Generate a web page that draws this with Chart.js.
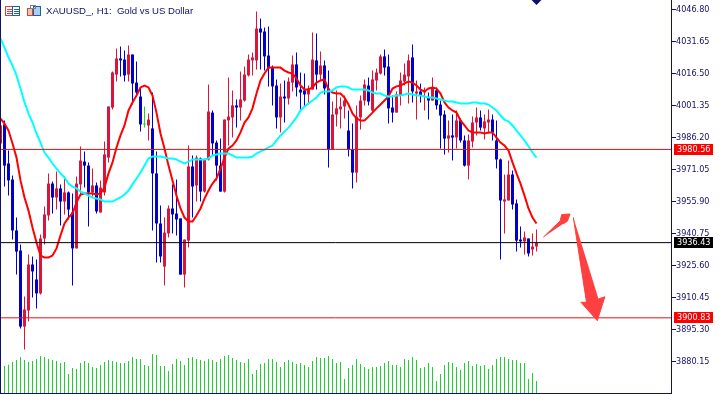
<!DOCTYPE html>
<html>
<head>
<meta charset="utf-8">
<title>XAUUSD H1</title>
<script src="https://cdn.jsdelivr.net/npm/chart.js@4"></script>
<style>
  html, body { margin: 0; padding: 0; background: #fff; }
  canvas { display: block; }
</style>
</head>
<body>
<canvas id="stockChart" width="725" height="394"></canvas>
<script>
const chartTitle = 'XAUUSD_, H1:  Gold vs US Dollar';
const priceTicks = [4046.80, 4031.65, 4016.50, 4001.35, 3986.20, 3971.05, 3955.90, 3940.75, 3925.60, 3910.45, 3895.30, 3880.15];
const resistanceLevel = 3980.56;
const lastPrice = 3936.43;
const supportLevel = 3900.83;

const highs = [3995.2,3994.3,3980.1,3968.2,3948.3,3935.6,3910.9,3930.8,3929.9,3928.5,3940.3,3953.5,3969.2,3965.4,3970.1,3964.0,3966.8,3960.6,3959.7,3967.7,
  3981.9,3979.6,3974.4,3971.5,3964.9,3965.9,3984.3,4000.9,4017.4,4028.3,4029.3,4027.4,4029.8,4025.5,4022.2,4009.9,4000.9,3997.6,4007.5,3979.6,
  3954.0,3948.3,3954.0,3964.0,3966.3,3947.9,3937.9,3982.4,3977.7,3977.7,3976.7,3976.3,4011.3,3999.0,3984.8,3985.7,3994.7,4014.6,4008.5,4004.2,
  4017.4,4019.8,4025.5,4026.4,4045.9,4042.5,4038.3,4038.8,4020.3,4013.7,4011.8,4013.2,4014.6,4025.0,4026.4,4017.0,4016.5,4010.8,4035.9,4035.4,
  4026.9,4022.7,4017.9,4003.2,4008.5,4005.1,4006.1,3999.0,3992.8,4001.4,4006.1,4013.7,4014.6,4017.9,4018.9,4025.5,4027.9,4025.5,4006.1,4008.0,
  4017.0,4021.2,4025.5,4030.2,4013.2,4011.8,4009.9,4007.5,4014.6,4009.9,4003.7,3999.0,3994.3,3997.1,3999.0,3995.2,3987.2,3987.6,3996.1,4000.4,
  3999.0,3997.1,3999.5,3997.1,3994.3,3976.3,3968.7,3975.3,3970.6,3956.9,3944.1,3941.7,3938.4,3940.8,3942.7];
const lows = [3983.4,3963.0,3958.7,3937.9,3921.3,3895.8,3885.8,3899.1,3910.5,3905.2,3911.9,3935.6,3946.9,3950.2,3952.1,3944.6,3949.8,3947.4,3916.1,3933.7,
  3959.2,3962.5,3944.1,3958.3,3950.2,3950.7,3958.7,3974.4,3999.5,4012.7,4015.1,4012.7,4012.7,4001.8,4006.0,3989.0,3990.9,3984.8,3942.2,3927.0,
  3927.0,3916.1,3938.9,3940.8,3939.8,3921.3,3915.2,3934.1,3948.3,3955.9,3955.9,3960.2,3975.3,3977.7,3965.9,3960.6,3960.2,3982.4,3986.2,3990.9,
  3994.3,4003.2,4015.1,4015.6,4018.4,4018.4,4017.9,4010.4,4001.4,3990.5,3988.6,3993.3,4001.8,4008.0,4005.6,3999.0,4000.9,4001.8,4008.9,4008.9,
  4013.2,4006.6,3972.0,3980.5,3991.4,3990.5,3995.2,3977.2,3962.1,3964.9,3990.0,4001.4,4001.4,3998.0,4008.5,4016.0,4015.6,3992.8,3993.3,3998.0,
  4001.4,4010.8,4002.3,4002.8,3994.7,4002.8,3999.0,3994.7,4003.7,3999.5,3981.0,3978.2,3979.1,3975.3,3981.0,3983.8,3972.5,3966.3,3981.5,3987.2,
  3989.5,3985.3,3988.1,3984.8,3971.5,3928.5,3940.8,3956.4,3952.1,3932.2,3934.1,3930.8,3929.9,3930.3,3932.2];
const opens = [3983.4,3992.4,3973.9,3966.3,3942.2,3932.7,3896.7,3904.3,3926.1,3919.0,3912.4,3938.4,3949.3,3964.4,3957.8,3962.1,3955.9,3960.2,3950.7,3933.7,
  3964.0,3974.8,3972.9,3960.2,3963.5,3950.7,3960.2,3976.7,4000.4,4016.0,4023.6,4023.1,4016.0,4025.5,4012.2,4005.6,3992.8,3991.9,3990.5,3969.2,
  3945.5,3925.1,3940.8,3952.6,3950.2,3947.9,3921.3,3937.4,3972.5,3963.5,3976.3,3960.6,3975.8,3998.0,3983.8,3972.9,3960.6,3994.3,3995.7,4001.4,
  4000.4,4003.7,4015.6,4022.7,4022.7,4037.8,4036.4,4025.0,4019.3,4010.8,3995.7,4005.6,4004.7,4012.2,4020.8,4008.9,4008.5,4006.6,4008.9,4022.7,
  4016.0,4020.3,4009.4,3980.5,3997.1,3999.5,4000.9,3989.5,3980.5,3969.6,3995.7,4003.7,4010.8,3999.0,4013.2,4016.5,4024.6,4019.8,4000.4,3998.0,
  4006.1,4012.7,4015.1,4024.1,4007.0,4008.0,4007.5,4005.1,4003.7,4008.5,4001.8,3997.1,3985.7,3987.2,3986.2,3994.3,3984.8,3972.9,3984.3,3993.3,
  3995.7,3990.5,3993.3,3994.7,3984.8,3975.8,3955.9,3956.4,3968.7,3955.0,3937.9,3937.0,3938.4,3933.2,3934.6];
const closes = [3991.9,3972.9,3965.9,3942.2,3932.2,3896.7,3904.8,3926.1,3922.8,3912.4,3938.4,3949.8,3964.4,3957.8,3962.1,3955.9,3960.2,3952.1,3933.7,3964.4,
  3975.3,3972.9,3960.2,3963.5,3951.2,3962.5,3978.2,4000.9,4017.0,4023.6,4022.7,4015.6,4025.5,4011.8,4007.5,3992.4,3992.4,3994.7,3969.2,3945.5,
  3929.9,3941.2,3952.6,3949.8,3947.4,3921.3,3937.9,3972.5,3963.0,3976.7,3960.6,3975.8,3998.5,3983.4,3972.9,3960.6,3994.7,3996.1,4001.4,4000.4,
  4004.2,4016.0,4023.1,4024.1,4037.8,4035.9,4024.6,4018.9,4010.4,3995.7,4005.6,4004.7,4012.7,4020.8,4009.9,4007.5,4006.6,4009.4,4023.1,4016.0,
  4020.3,4009.4,3980.5,3997.1,4000.0,4000.9,4003.7,3980.5,3969.6,3996.1,4003.7,4011.3,4003.2,4013.7,4017.0,4024.6,4019.3,4000.0,3998.0,4006.6,
  4013.2,4016.0,4022.7,4008.0,4008.0,4006.1,4008.5,4003.7,4009.9,4001.4,3996.6,3985.7,3987.2,3986.2,3994.3,3984.8,3972.9,3984.8,3993.3,3995.7,
  3990.9,3993.8,3994.7,3988.6,3975.8,3956.4,3956.9,3968.7,3954.5,3937.4,3937.0,3938.9,3931.3,3934.6,3936.4];
// the one candle the terminal draws in green
const greenCandles = [36];

const redAverage = [3995.2,3992.8,3989.5,3983.4,3976.7,3965.9,3957.8,3951.6,3943.6,3936.5,3930.3,3929.4,3929.4,3930.3,3933.7,3939.8,3945.5,3948.3,3950.2,3955.4,
  3959.2,3959.7,3959.7,3959.7,3959.2,3959.7,3962.5,3969.2,3974.4,3981.5,3987.2,3991.9,3999.0,4002.8,4006.1,4009.9,4010.8,4009.9,4006.1,3998.0,
  3988.1,3981.0,3972.9,3965.9,3958.7,3952.6,3948.3,3946.4,3946.4,3949.3,3952.6,3957.3,3961.1,3964.4,3966.8,3971.5,3976.7,3981.0,3982.4,3984.8,
  3988.6,3993.3,3995.7,4000.0,4007.0,4013.2,4016.5,4019.3,4019.3,4019.3,4019.3,4017.9,4017.0,4016.5,4014.1,4010.8,4008.9,4008.9,4009.9,4012.2,
  4013.2,4013.7,4008.9,4007.5,4007.0,4007.0,4005.1,4001.8,3997.6,3995.2,3994.3,3994.3,3996.1,3998.0,4000.0,4001.8,4003.7,4005.6,4009.4,4010.4,
  4010.8,4011.8,4012.7,4012.2,4010.8,4008.9,4008.0,4009.4,4009.9,4009.4,4007.0,4002.8,4000.4,3999.0,3998.0,3994.3,3991.9,3989.5,3988.6,3988.6,
  3988.6,3988.1,3988.6,3988.6,3986.2,3983.8,3982.4,3980.1,3974.4,3969.2,3964.4,3958.7,3952.6,3948.3,3945.5];
const cyanAverage = [4033.1,4028.8,4024.1,4020.3,4015.6,4009.4,4002.8,3997.6,3993.3,3988.1,3983.8,3979.1,3976.7,3973.9,3971.5,3969.2,3967.3,3964.4,3963.0,3962.1,
  3960.6,3959.7,3958.7,3957.8,3957.3,3956.9,3955.9,3955.9,3955.9,3956.9,3957.8,3959.2,3961.1,3964.0,3966.8,3969.6,3972.9,3976.3,3977.2,3977.2,
  3977.2,3976.7,3976.3,3976.3,3975.8,3974.8,3973.9,3974.8,3975.8,3975.8,3975.8,3975.8,3976.3,3977.7,3978.2,3978.6,3978.6,3978.6,3977.7,3976.7,
  3976.7,3976.7,3976.7,3977.2,3978.6,3979.6,3980.5,3981.5,3982.4,3984.8,3987.2,3989.0,3990.9,3993.3,3995.7,3999.0,4000.9,4002.3,4003.7,4005.1,
  4007.5,4008.0,4008.0,4008.5,4009.9,4010.4,4010.4,4009.9,4008.9,4008.9,4008.9,4008.9,4008.5,4007.5,4007.0,4007.0,4006.1,4005.6,4005.6,4006.1,
  4006.1,4006.6,4007.0,4006.6,4006.1,4006.1,4005.6,4005.1,4005.1,4004.7,4004.2,4003.7,4003.2,4003.2,4002.8,4002.3,4002.3,4002.3,4002.8,4002.8,
  4002.3,4002.3,4001.8,4000.4,3999.0,3996.6,3994.7,3993.8,3991.9,3989.5,3987.2,3984.8,3982.0,3979.1,3976.7];

// tick volume, first candle has none visible (hidden behind the frame)
const volumes = [0,2700,2830,3100,3300,3600,3300,3100,3200,3400,3700,3600,3400,3300,3200,3000,3100,1900,2500,2400,
  3000,3200,3000,2600,2500,2800,3100,3300,3200,3100,3000,3000,3200,3600,3400,3400,2800,2700,3900,3800,
  2700,2700,2200,2900,3400,3200,2800,3500,3600,3400,3300,3200,3400,3300,3100,3400,3700,3800,3500,3300,
  3100,3000,3400,1900,2300,2900,3000,3400,3400,3100,2600,3100,3300,3100,2900,3000,2800,2600,3200,3600,
  3500,3500,3700,3400,3000,3100,1400,2500,2800,3400,2900,2600,2400,2600,2600,2700,3000,3200,2800,2800,
  2600,3400,3300,3600,3300,2500,2600,3000,2600,1200,1900,2800,3100,3000,2600,2300,3000,3200,2700,2900,
  2700,2800,2400,2800,3400,3600,3600,3400,3300,3300,3000,3000,1400,2000,1200];

// hand-drawn arrows, candle position / price
const upArrowX = [135.7, 139.9, 140.3, 142.4, 141.7, 140.6];
const upArrowY = [3939.0, 3946.7, 3949.7, 3950.0, 3946.5, 3945.3];
const downArrowX = [143.2, 146.5, 145.1, 149.2, 151.1, 149.5];
const downArrowY = [3948.4, 3908.2, 3908.2, 3899.5, 3910.8, 3909.8];

const markerCandle = 134;
const markerPrice = 4051.8;

const NAVY = '#10106b';
const CANDLE_UP = '#dc143c';
const CANDLE_DOWN = '#0000cd';
const CANDLE_GREEN = '#22cc33';
const ARROW_RED = '#ff4040';
const AXIS_FONT = '"DejaVu Sans Condensed", "Liberation Sans"';

const xMin = -0.125;
const xMax = 167.625;

function candleColor(i) {
    if (greenCandles.includes(i)) return CANDLE_GREEN;
    return closes[i] >= opens[i] ? CANDLE_UP : CANDLE_DOWN;
}

function hLine(value, color) {
    return {
        type: 'line',
        data: [{ x: xMin, y: value }, { x: xMax, y: value }],
        borderColor: color,
        borderWidth: 1,
        pointRadius: 0,
        order: 2
    };
}

function arrow(xs, ys) {
    return {
        type: 'line',
        data: xs.map((x, i) => ({ x: x, y: ys[i] })),
        borderColor: ARROW_RED,
        backgroundColor: ARROW_RED,
        borderWidth: 1,
        pointRadius: 0,
        fill: 'shape',
        order: 1
    };
}

const priceBoxes = {
    id: 'priceBoxes',
    afterDraw(chart) {
        const { ctx, scales, chartArea } = chart;
        const y = scales.y;

        ctx.save();
        // frame
        ctx.fillStyle = NAVY;
        ctx.fillRect(0, 0, 1, 394);
        ctx.fillRect(0, 393, chartArea.right + 1, 1);

        // current price and level tags on the scale
        ctx.font = '9px ' + AXIS_FONT;
        ctx.textAlign = 'left';
        ctx.textBaseline = 'middle';
        [[resistanceLevel, '#ff0000'], [lastPrice, '#000000'], [supportLevel, '#ff0000']].forEach(([value, color]) => {
            const py = Math.floor(y.getPixelForValue(value));
            ctx.fillStyle = color;
            ctx.fillRect(674, py - 5, 39, 11);
            ctx.fillStyle = '#ffffff';
            ctx.fillText(value.toFixed(2), 677, py + 0.5);
        });

        // toolbar icons and symbol caption
        ctx.strokeStyle = '#d9413a';
        ctx.strokeRect(5.5, 6.5, 7, 9);
        ctx.strokeRect(27.5, 8.5, 5, 7);
        ctx.fillStyle = '#f4c0a8';
        ctx.fillRect(28, 9, 4, 6);
        ctx.fillStyle = '#d9413a';
        ctx.fillRect(7, 9, 5, 1);
        ctx.fillRect(7, 11, 5, 1);
        ctx.fillRect(7, 13, 5, 1);
        ctx.strokeStyle = '#1f5fa8';
        ctx.strokeRect(12.5, 6.5, 7, 9);
        ctx.strokeRect(33.5, 6.5, 7, 9);
        ctx.fillStyle = '#a8d0f0';
        ctx.fillRect(34, 7, 6, 8);
        ctx.fillStyle = '#1f5fa8';
        ctx.fillRect(14, 9, 5, 1);
        ctx.fillRect(14, 11, 5, 1);
        ctx.fillRect(14, 13, 5, 1);
        ctx.strokeStyle = '#808080';
        ctx.strokeRect(30.5, 5.5, 5, 3);

        ctx.fillStyle = NAVY;
        ctx.font = '9.6px "Liberation Sans"';
        ctx.fillText(chartTitle, 46, 11);
        ctx.restore();
    }
};

const ctx = document.getElementById('stockChart').getContext('2d');
new Chart(ctx, {
    type: 'bar',
    data: {
        datasets: [
            {
                data: volumes.map((v, i) => ({ x: i, y: v })),
                yAxisID: 'yVolume',
                backgroundColor: CANDLE_GREEN,
                barThickness: 1,
                grouped: false,
                inflateAmount: 0,
                order: 6
            },
            {
                data: highs.map((h, i) => ({ x: i, y: [lows[i], h] })),
                backgroundColor: highs.map((h, i) => candleColor(i)),
                barThickness: 1,
                grouped: false,
                inflateAmount: 0,
                order: 5
            },
            {
                data: opens.map((o, i) => ({ x: i, y: [o, closes[i]] })),
                backgroundColor: opens.map((o, i) => candleColor(i)),
                barThickness: 3,
                grouped: false,
                inflateAmount: 0,
                order: 4
            },
            {
                type: 'line',
                data: cyanAverage.map((v, i) => ({ x: i, y: v })),
                borderColor: '#00ffff',
                borderWidth: 2,
                pointRadius: 0,
                order: 3
            },
            {
                type: 'line',
                data: redAverage.map((v, i) => ({ x: i, y: v })),
                borderColor: '#ff0000',
                borderWidth: 2,
                pointRadius: 0,
                order: 3
            },
            hLine(resistanceLevel, '#e81010'),
            hLine(lastPrice, '#000000'),
            hLine(supportLevel, '#e81010'),
            arrow(upArrowX, upArrowY),
            arrow(downArrowX, downArrowY),
            {
                type: 'line',
                data: [{ x: markerCandle, y: markerPrice }],
                showLine: false,
                pointStyle: 'rectRot',
                pointRadius: 6,
                pointBackgroundColor: '#10106b',
                pointBorderWidth: 0,
                clip: false,
                order: 1
            }
        ]
    },
    options: {
        responsive: false,
        animation: false,
        events: [],
        layout: { autoPadding: false, padding: { left: 0, right: 0, top: 0, bottom: 1 } },
        plugins: {
            legend: { display: false },
            tooltip: { enabled: false }
        },
        scales: {
            x: {
                type: 'linear',
                display: false,
                offset: false,
                min: xMin,
                max: xMax
            },
            y: {
                position: 'right',
                min: 3865.25,
                max: 4051.3,
                afterFit(scale) {
                    scale.width = 54;
                    // stops the chart area shrinking to fit half a label
                    scale.paddingTop = 0;
                    scale.paddingBottom = 0;
                },
                afterBuildTicks(scale) { scale.ticks = priceTicks.map(value => ({ value })); },
                border: { color: NAVY, width: 1 },
                grid: { drawOnChartArea: false, color: NAVY, tickLength: 5 },
                ticks: {
                    color: NAVY,
                    padding: 0,
                    autoSkip: false,
                    maxRotation: 0,
                    font: { family: AXIS_FONT, size: 9 },
                    callback: value => value.toFixed(2)
                }
            },
            yVolume: {
                display: false,
                min: 0,
                max: 39300
            }
        }
    },
    plugins: [priceBoxes]
});
</script>
</body>
</html>
